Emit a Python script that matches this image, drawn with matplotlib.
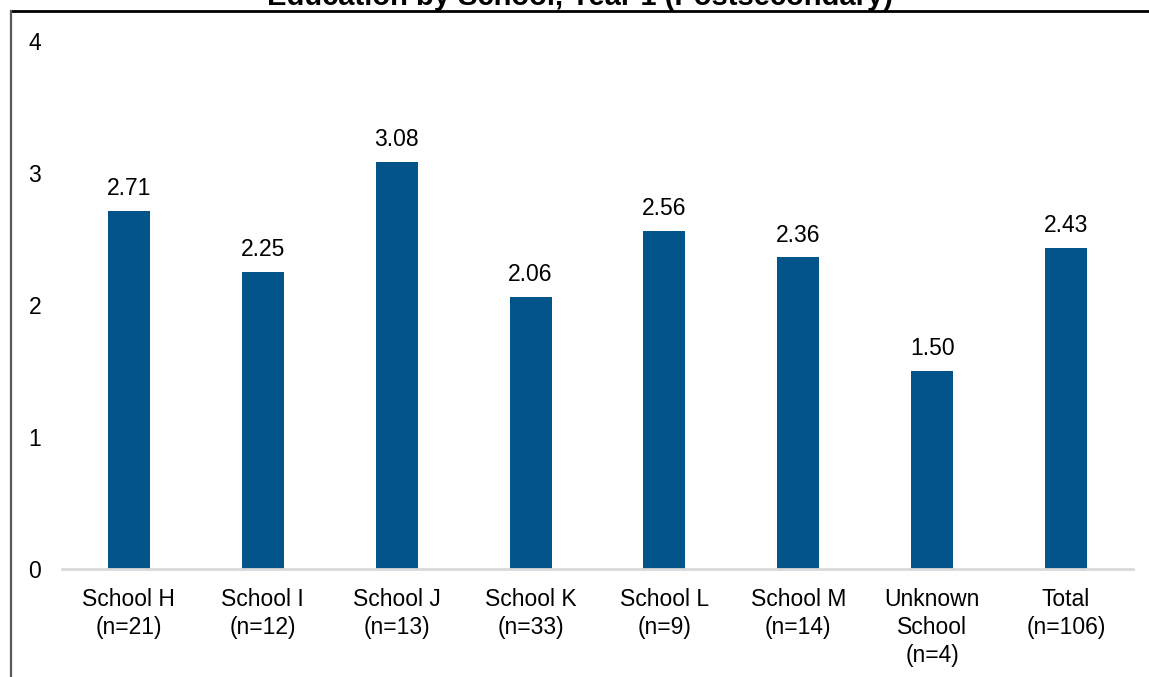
import matplotlib
matplotlib.use("Agg")
import matplotlib.pyplot as plt
from matplotlib.lines import Line2D

title = "Education by School, Year 1 (Postsecondary)"
categories = ["School H\n(n=21)", "School I\n(n=12)", "School J\n(n=13)", "School K\n(n=33)",
              "School L\n(n=9)", "School M\n(n=14)", "Unknown\nSchool\n(n=4)", "Total\n(n=106)"]
values = [2.71, 2.25, 3.08, 2.06, 2.56, 2.36, 1.50, 2.43]
yticks = [0, 1, 2, 3, 4]

plt.rcParams['font.family'] = ['Liberation Sans', 'DejaVu Sans']

W, H = 1149, 677
fig = plt.figure(figsize=(W / 100, H / 100), dpi=100)
ax = fig.add_axes([62 / W, (H - 569) / H, (1133 - 62) / W, (569 - 41) / H])

x = list(range(len(categories)))
bars = ax.bar(x, values, width=0.313, color="#02548B", zorder=2)
for xi, v in zip(x, values):
    ax.annotate(f"{v:.2f}", (xi, v), xytext=(0, 11.5), textcoords="offset points",
                ha="center", va="baseline", fontsize=16.5, color="#000000")

ax.set_xlim(-0.5, len(categories) - 0.5)
ax.set_ylim(0, 4)
ax.set_yticks(yticks)
ax.set_yticklabels([str(t) for t in yticks], fontsize=16.5)
ax.set_xticks(x)
ax.set_xticklabels(categories, fontsize=16.5, linespacing=1.28)
ax.tick_params(axis="both", length=0)
ax.tick_params(axis="y", pad=15)
ax.tick_params(axis="x", pad=13.5)
for s in ["top", "right", "left"]:
    ax.spines[s].set_visible(False)
ax.spines["bottom"].set_color("#D9D9D9")
ax.spines["bottom"].set_linewidth(2)

# Title (partially cut off at the top, as in the reference)
fig.text(580 / W, 1 - 5 / H, title, ha="center", va="baseline",
         fontsize=21, fontweight="bold")

# Frame lines
fig.add_artist(Line2D([10.5 / W, 1.0], [1 - 11 / H, 1 - 11 / H],
                      transform=fig.transFigure, color="#000000", linewidth=2.0))
fig.add_artist(Line2D([10.5 / W, 10.5 / W], [1 - 11 / H, 0.0],
                      transform=fig.transFigure, color="#595959", linewidth=1.6))

fig.savefig("out.png", dpi=100)
